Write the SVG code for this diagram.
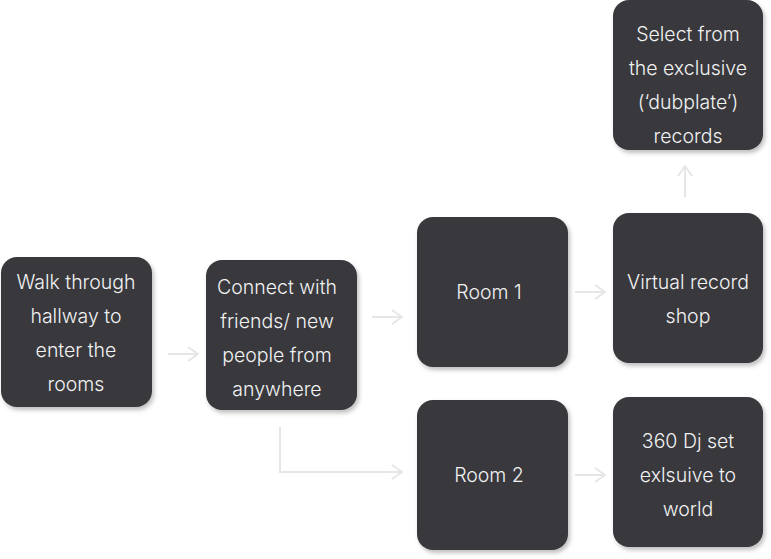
<svg xmlns="http://www.w3.org/2000/svg" width="771" height="559" viewBox="0 0 771 559">
<defs>
<filter id="sh" x="-10%" y="-10%" width="125%" height="125%">
<feDropShadow dx="2" dy="3" stdDeviation="2" flood-color="#000" flood-opacity="0.25"/>
</filter>
<marker id="ah" markerWidth="12" markerHeight="16" refX="11" refY="8" orient="auto" markerUnits="userSpaceOnUse">
<path d="M1,1 L11,8 L1,15" fill="none" stroke="#e6e6e6" stroke-width="2"/>
</marker>
</defs>
<style>
.n{fill:#38383d;filter:url(#sh)}
.t{font-family:Inter,"Open Sans",sans-serif;font-size:19.5px;font-weight:300;fill:#f2f2f2;text-anchor:middle}
.c{fill:none;stroke:#e6e6e6;stroke-width:2}
</style>
<g id="connectors">
<path class="c" d="M168,354 H198" marker-end="url(#ah)"/>
<path class="c" d="M372,317 H402" marker-end="url(#ah)"/>
<path class="c" d="M280,427 V472 H402" marker-end="url(#ah)"/>
<path class="c" d="M575,292 H605" marker-end="url(#ah)"/>
<path class="c" d="M575,475 H605" marker-end="url(#ah)"/>
<path class="c" d="M685,197 V166" marker-end="url(#ah)"/>
</g>
<g id="walk">
<rect class="n" x="1" y="257" width="151" height="150" rx="16"/>
<text class="t"><tspan x="76" y="289">Walk through</tspan><tspan x="76" y="323">hallway to</tspan><tspan x="76" y="357">enter the</tspan><tspan x="76" y="391">rooms</tspan></text>
</g>
<g id="connect">
<rect class="n" x="206" y="260" width="151" height="150" rx="16"/>
<text class="t"><tspan x="277" y="294">Connect with</tspan><tspan x="277" y="328">friends/ new</tspan><tspan x="277" y="362">people from</tspan><tspan x="277" y="396">anywhere</tspan></text>
</g>
<g id="room1">
<rect class="n" x="417" y="217" width="151" height="150" rx="16"/>
<text class="t"><tspan x="489" y="299">Room 1</tspan></text>
</g>
<g id="room2">
<rect class="n" x="417" y="400" width="151" height="150" rx="16"/>
<text class="t"><tspan x="489" y="482">Room 2</tspan></text>
</g>
<g id="shop">
<rect class="n" x="613" y="213" width="150" height="150" rx="16"/>
<text class="t"><tspan x="688" y="289">Virtual record</tspan><tspan x="688" y="323">shop</tspan></text>
</g>
<g id="select">
<rect class="n" x="613" y="0" width="150" height="150" rx="16"/>
<text class="t"><tspan x="688" y="41">Select from</tspan><tspan x="688" y="75">the exclusive</tspan><tspan x="688" y="109">(‘dubplate’)</tspan><tspan x="688" y="143">records</tspan></text>
</g>
<g id="dj">
<rect class="n" x="613" y="397" width="150" height="150" rx="16"/>
<text class="t"><tspan x="688" y="448">360 Dj set</tspan><tspan x="688" y="482">exlsuive to</tspan><tspan x="688" y="516">world</tspan></text>
</g>
</svg>
